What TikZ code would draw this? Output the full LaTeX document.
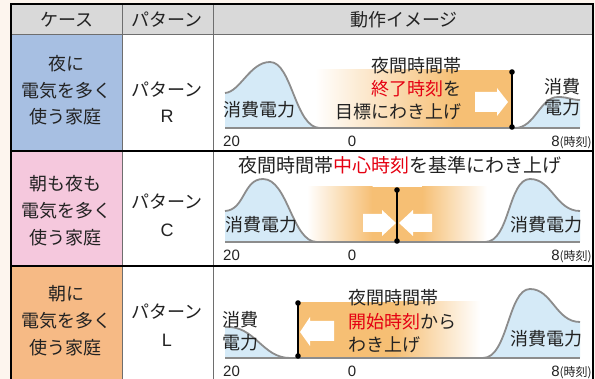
\documentclass[tikz,border=0pt]{standalone}
\usepackage{fontspec}
\setmainfont{Noto Sans CJK JP}
\newfontfamily\lat{Liberation Sans}
\definecolor{bgc}{HTML}{FDF5EE}
\definecolor{hdr}{HTML}{D9D9D9}
\definecolor{cBlue}{HTML}{A7BFE2}
\definecolor{cPink}{HTML}{F5C8DD}
\definecolor{cOrng}{HTML}{F6BA85}
\definecolor{fBlue}{HTML}{D5EAF7}
\definecolor{gOr}{HTML}{F6BF74}
\definecolor{jred}{HTML}{E50012}
\definecolor{ink}{HTML}{222222}
\definecolor{curveg}{HTML}{8C8C8C}
\definecolor{gridg}{HTML}{6E6E6E}
\begin{document}
\begin{tikzpicture}[x=1pt,y=-1pt,
  jp/.style={font=\fontsize{18}{20}\selectfont, text=ink, inner sep=0pt, text height=15.8pt, text depth=2.2pt},
  jpbig/.style={font=\fontsize{19}{21}\selectfont, text=ink, inner sep=0pt, text height=16.7pt, text depth=2.3pt},
  letter/.style={font=\lat\fontsize{18}{20}\selectfont, text=ink, inner sep=0pt, text height=12.9pt, text depth=0pt},
  num/.style={font=\lat\fontsize{15}{16}\selectfont, text=ink, inner sep=0pt, text height=10.7pt, text depth=0pt},
  hump/.style={fill=fBlue, draw=none},
  humpline/.style={draw=curveg, line width=1.8pt},
  axisline/.style={draw=curveg, line width=1.6pt},
  barline/.style={draw=black, line width=1.8pt},
  dot/.style={fill=black},
  wArrow/.style={fill=white, draw=none},
  outer/.style={draw=black, line width=1.2pt},
  rowsep/.style={draw=black, line width=1.1pt},
  colsep/.style={draw=gridg, line width=1pt}
]
\useasboundingbox (0,0) rectangle (595,379);
\fill[bgc] (0,0) rectangle (595,379);
% cells
\fill[hdr] (11,4) rectangle (593,35);
\fill[cBlue] (11,35) rectangle (122.5,151);
\fill[cPink] (11,151) rectangle (122.5,266);
\fill[cOrng] (11,266) rectangle (122.5,379);
\fill[white] (122.5,35) rectangle (593,379);

% ---------- Row 1 ----------
\fill[left color=white, right color=gOr] (315,70) rectangle (455.5,128);
\fill[gOr] (455,70) rectangle (512,128);
\fill[hump] (225,128) -- (225,93) .. controls (240,92) and (250,62) .. (270,62) .. controls (292,62) and (295,128) .. (320,128) -- cycle;
\draw[humpline] (225,93) .. controls (240,92) and (250,62) .. (270,62) .. controls (292,62) and (295,128) .. (320,128);
\fill[hump] (515,128) .. controls (535,128) and (540,97) .. (558,97) .. controls (568,97) and (572,100) .. (580,100) -- (580,128) -- cycle;
\draw[humpline] (515,128) .. controls (535,128) and (540,97) .. (558,97) .. controls (568,97) and (572,100) .. (580,100);
\draw[axisline] (225,128) -- (580,128);
\fill[wArrow] (475,92) -- (497,92) -- (497,88) -- (508,102) -- (497,116) -- (497,112) -- (475,112) -- cycle;
\coordinate (b1t) at (512,72);
\coordinate (b1b) at (512,127);
\draw[barline] (b1t) -- (b1b);
\fill[dot] (b1t) circle (2.8);
\fill[dot] (b1b) circle (2.8);
\node[jp, anchor=east] (r1a) at (462,66) {夜間時間帯};
\node[jp, anchor=east] (r1b) at (462,89) {{\color{jred}終了時刻}を};
\node[jp, anchor=east] (r1c) at (462,111.5) {目標にわき上げ};
\node[jp] (r1l) at (259,110) {消費電力};
\node[jp] (r1r1) at (562,87) {消費};
\node[jp] (r1r2) at (562,108) {電力};
\node[num, anchor=west] (r1n20) at (223,141) {20};
\node[num] (r1n0) at (352,141) {0};
\node[num, anchor=east] (r1n8) at (592,141) {8{\rmfamily\fontsize{12}{13}\selectfont (時刻)}};

% ---------- Row 2 ----------
\fill[left color=white, right color=gOr] (307,187) rectangle (372.5,242);
\fill[gOr] (372,187) rectangle (422.5,242);
\fill[left color=gOr, right color=white] (422,187) rectangle (487,242);
\fill[hump] (225,242) -- (225,211) .. controls (245,210) and (243,179) .. (263,179) .. controls (288,179) and (292,242) .. (317,242) -- cycle;
\draw[humpline] (225,211) .. controls (245,210) and (243,179) .. (263,179) .. controls (288,179) and (292,242) .. (317,242);
\fill[hump] (485,242) .. controls (510,242) and (508,179) .. (530,179) .. controls (552,179) and (556,211) .. (580,211) -- (580,242) -- cycle;
\draw[humpline] (485,242) .. controls (510,242) and (508,179) .. (530,179) .. controls (552,179) and (556,211) .. (580,211);
\draw[axisline] (225,242) -- (580,242);
\fill[wArrow] (363,214) -- (382,214) -- (382,210) -- (396,223) -- (382,236) -- (382,232) -- (363,232) -- cycle;
\fill[wArrow] (432,214) -- (413,214) -- (413,210) -- (399,223) -- (413,236) -- (413,232) -- (432,232) -- cycle;
\coordinate (b2t) at (397,190);
\coordinate (b2b) at (397,241);
\draw[barline] (b2t) -- (b2b);
\fill[dot] (b2t) circle (2.8);
\fill[dot] (b2b) circle (2.8);
\node[jpbig] (r2t) at (400,165) {夜間時間帯{\color{jred}中心時刻}を基準にわき上げ};
\node[jp] (r2l) at (261,225) {消費電力};
\node[jp] (r2r) at (546,225) {消費電力};
\node[num, anchor=west] (r2n20) at (223,255) {20};
\node[num] (r2n0) at (352,255) {0};
\node[num, anchor=east] (r2n8) at (592,255) {8{\rmfamily\fontsize{12}{13}\selectfont (時刻)}};

% ---------- Row 3 ----------
\fill[gOr] (298,302) rectangle (395.5,358);
\fill[left color=gOr, right color=white] (395,302) rectangle (480,358);
\fill[hump] (225,358) -- (225,327) .. controls (255,325) and (262,358) .. (290,358) -- cycle;
\draw[humpline] (225,327) .. controls (255,325) and (262,358) .. (290,358);
\fill[hump] (483,358) .. controls (508,358) and (508,289) .. (530,289) .. controls (552,289) and (556,322) .. (580,322) -- (580,358) -- cycle;
\draw[humpline] (483,358) .. controls (508,358) and (508,289) .. (530,289) .. controls (552,289) and (556,322) .. (580,322);
\draw[axisline] (225,358) -- (580,358);
\fill[wArrow] (334,321) -- (310,321) -- (310,317) -- (300,332) -- (310,346) -- (310,341) -- (334,341) -- cycle;
\coordinate (b3t) at (298,303);
\coordinate (b3b) at (298,356);
\draw[barline] (b3t) -- (b3b);
\fill[dot] (b3t) circle (2.8);
\fill[dot] (b3b) circle (2.8);
\node[jp, anchor=west] (r3a) at (348,298) {夜間時間帯};
\node[jp, anchor=west] (r3b) at (348,321.5) {{\color{jred}開始時刻}から};
\node[jp, anchor=west] (r3c) at (348,345) {わき上げ};
\node[jp] (r3l1) at (240,320) {消費};
\node[jp] (r3l2) at (240,343) {電力};
\node[jp] (r3r) at (546,339) {消費電力};
\node[num, anchor=west] (r3n20) at (223,371) {20};
\node[num] (r3n0) at (352,371) {0};
\node[num, anchor=east] (r3n8) at (592,371) {8{\rmfamily\fontsize{12}{13}\selectfont (時刻)}};

% ---------- Left columns ----------
\node[jp] (h1) at (67,20) {ケース};
\node[jp] (h2) at (167,20) {パターン};
\node[jp] (h3) at (404,20) {動作イメージ};
\node[jp] (c1a) at (66,64) {夜に};
\node[jp] (c1b) at (66,90.5) {電気を多く};
\node[jp] (c1c) at (66,117) {使う家庭};
\node[jp] (c2a) at (66,184) {朝も夜も};
\node[jp] (c2b) at (66,211) {電気を多く};
\node[jp] (c2c) at (66,238) {使う家庭};
\node[jp] (c3a) at (66,294) {朝に};
\node[jp] (c3b) at (66,321) {電気を多く};
\node[jp] (c3c) at (66,348) {使う家庭};
\node[jp] (p1) at (167,90) {パターン};
\node[letter] (p1l) at (167,116) {R};
\node[jp] (p2) at (167,202) {パターン};
\node[letter] (p2l) at (167,230) {C};
\node[jp] (p3) at (167,312) {パターン};
\node[letter] (p3l) at (167,340) {L};

% ---------- Grid ----------
\draw[colsep] (122.5,4) -- (122.5,379);
\draw[colsep] (213,4) -- (213,379);
\draw[colsep] (11,35) -- (593,35);
\draw[rowsep] (11,151) -- (593,151);
\draw[rowsep] (11,266) -- (593,266);
\draw[outer] (11,379) -- (11,4) -- (593,4) -- (593,379);
\end{tikzpicture}
\end{document}
